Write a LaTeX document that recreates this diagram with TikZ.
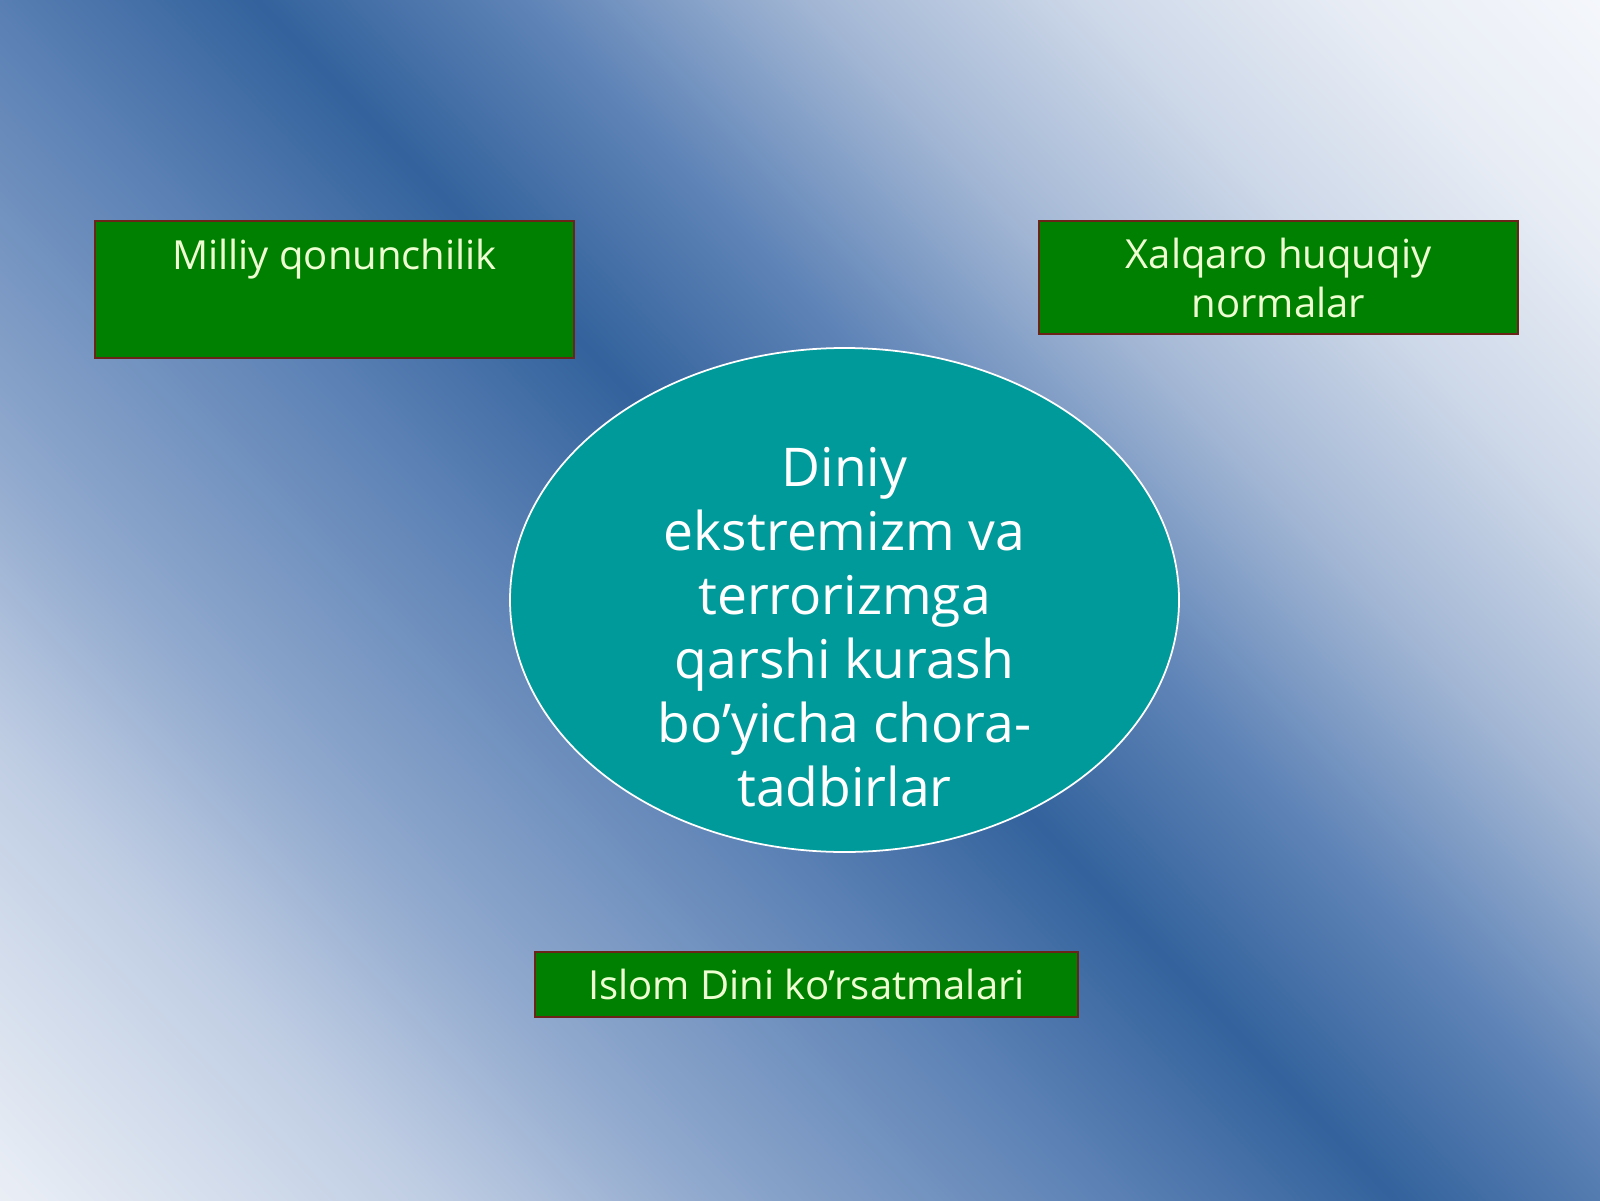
\documentclass[tikz,border=0pt]{standalone}
\usepackage{fontspec}
\setmainfont{Open Sans}
\usetikzlibrary{positioning,shapes.geometric}
\definecolor{boxgreen}{HTML}{008000}
\definecolor{boxedge}{HTML}{6B2418}
\definecolor{ovalteal}{HTML}{009A9A}
\definecolor{labeltext}{HTML}{EEFFD2}
\definecolor{bgwhite}{HTML}{F6F8FC}
\definecolor{bgpale}{HTML}{E8EDF5}
\definecolor{bglight}{HTML}{BFCDE3}
\definecolor{bgsoft}{HTML}{8FA8CD}
\definecolor{bgmid}{HTML}{5A80B4}
\definecolor{bgdark}{HTML}{33629C}
\definecolor{bgmidr}{HTML}{5F84B7}
\definecolor{bgsoftr}{HTML}{A2B6D4}
\definecolor{bglightr}{HTML}{CCD7E8}
\pgfdeclarehorizontalshading{bgband}{100bp}{color(0bp)=(bgwhite); color(30bp)=(bgwhite);
  color(33.3bp)=(bgpale); color(38.3bp)=(bglight); color(41.7bp)=(bgsoft);
  color(46.7bp)=(bgmid); color(50bp)=(bgdark); color(53.3bp)=(bgmidr);
  color(56.7bp)=(bgsoftr); color(60bp)=(bglightr); color(63.3bp)=(bgpale);
  color(66.7bp)=(bgwhite); color(100bp)=(bgwhite)}
\tikzset{
    % riquadri verdi
    greenbox/.style={draw=boxedge, line width=0.6pt, fill=boxgreen, rectangle,
                     inner sep=0pt, text=labeltext,
                     font=\fontsize{11.4}{13.7}\selectfont},
    % ellisse centrale
    centreoval/.style={draw=white, line width=0.5pt, fill=ovalteal, ellipse,
                       inner xsep=0pt, inner ysep=-0.6cm,
                       minimum width=6.69cm, minimum height=5.04cm,
                       text=white, align=center,
                       font=\fontsize{15.2}{18.2}\selectfont}
}
\begin{document}
\begin{tikzpicture}
  \useasboundingbox (0,0) rectangle (16,12);
  % Sfondo
  \begin{scope}
    \clip (0,0) rectangle (16,12);
    \shade[shading=bgband, shading angle=43.5] (-6.5,-9.25) rectangle (23.5,20.75);
  \end{scope}

  % Nodi
  \node[greenbox] (milliy) at (3.345,9.105)
    {\parbox[c][1.37cm][t]{4.79cm}{\centering\rule{0pt}{0.48cm}Milliy qonunchilik}};
  \node[greenbox] (xalqaro) at (12.785,9.225)
    {\parbox[c][1.13cm][t]{4.79cm}{\centering\rule{0pt}{0.48cm}Xalqaro huquqiy\\normalar}};
  \node[centreoval] (chora) at (8.445,6.0)
    {\rule{0pt}{0.94cm}Diniy\\ekstremizm va\\terrorizmga\\qarshi kurash\\bo’yicha chora-\\tadbirlar};
  \node[greenbox, minimum width=5.43cm, minimum height=0.65cm] (islom) at (8.065,2.155)
    {Islom Dini ko’rsatmalari};
\end{tikzpicture}
\end{document}
